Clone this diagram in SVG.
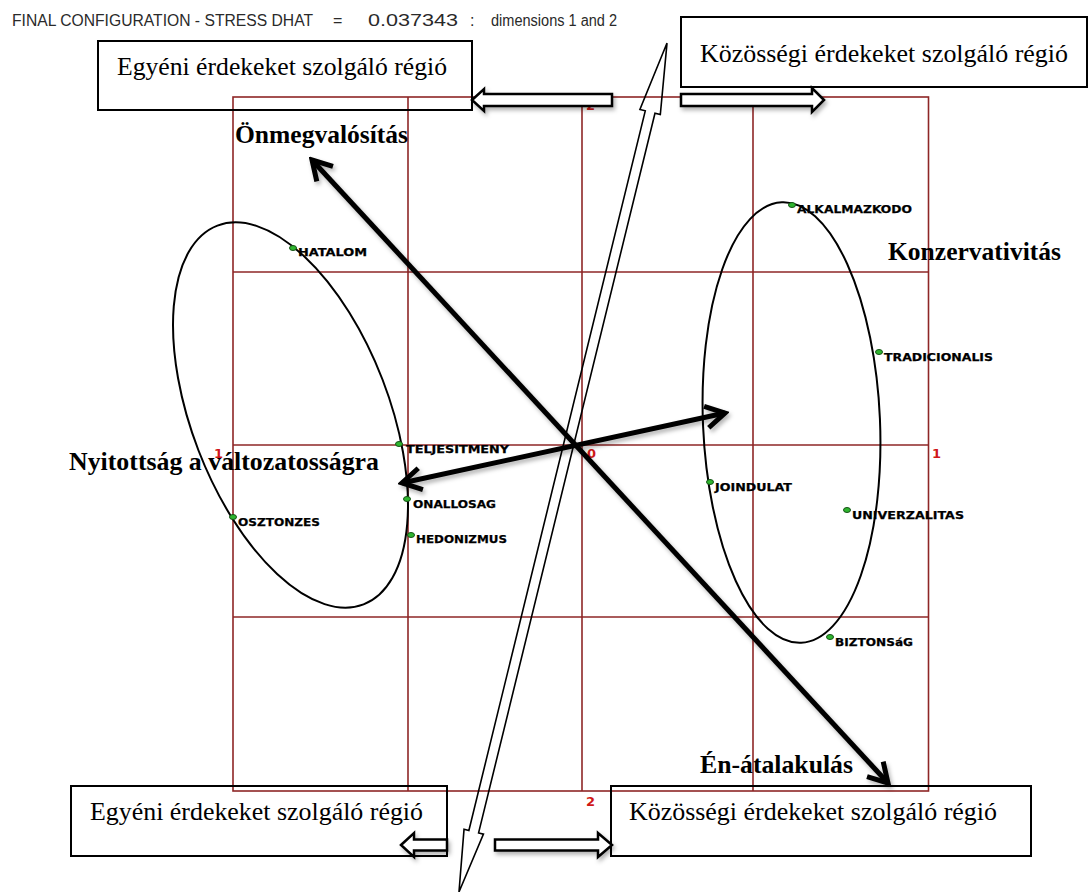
<svg xmlns="http://www.w3.org/2000/svg" width="1091" height="892" viewBox="0 0 1091 892">
  <style>
    .title { font-family: "Liberation Sans", Arial, sans-serif; font-size: 16px; fill: #2a2a2a; }
    .grid { stroke: #8e2626; stroke-width: 1.6; fill: none; }
    .axis { font-family: "DejaVu Sans", "Liberation Sans", sans-serif; font-size: 13px; font-weight: bold; fill: #d01818; }
    .pt { fill: #2fb52f; stroke: #145214; stroke-width: 1; }
    .plabel { font-family: "DejaVu Sans", "Liberation Sans", sans-serif; font-size: 10.5px; font-weight: bold; fill: #000; stroke: #000; stroke-width: 0.25; }
    .big { font-family: "Liberation Serif", "Times New Roman", serif; font-size: 25.5px; font-weight: bold; fill: #000; }
    .boxtext { font-family: "Liberation Serif", "Times New Roman", serif; font-size: 25.7px; fill: #000; }
    .box { fill: none; stroke: #000; stroke-width: 2; }
    .ring { fill: none; stroke: #000; stroke-width: 2; }
    .block { fill: #fff; stroke: #000; stroke-width: 2.5; stroke-linejoin: miter; }
    .thick { stroke: #000; stroke-width: 5; fill: none; }
    .slim { fill: none; stroke: #000; stroke-width: 1.6; stroke-linejoin: miter; }
  </style>
  <defs>
    <filter id="shadow" x="-10%" y="-10%" width="120%" height="120%">
      <feDropShadow dx="2" dy="3" stdDeviation="2" flood-color="#000" flood-opacity="0.3"/>
    </filter>
    <marker id="chevron" viewBox="-26 -15 30 30" refX="0" refY="0" markerWidth="30" markerHeight="30" markerUnits="userSpaceOnUse" orient="auto-start-reverse">
      <path d="M -19,-11 L 0,0 L -19,11" fill="none" stroke="#000" stroke-width="5" stroke-linejoin="miter"/>
    </marker>
  </defs>

  <rect width="1091" height="892" fill="#fff"/>

  <!-- header line of the MDS output -->
  <g id="header" class="title">
    <text x="12" y="26" textLength="301" lengthAdjust="spacingAndGlyphs">FINAL CONFIGURATION - STRESS DHAT</text>
    <text x="333" y="26">=</text>
    <text x="368" y="26" textLength="90" lengthAdjust="spacingAndGlyphs">0.037343</text>
    <text x="470" y="26">:</text>
    <text x="491" y="26" textLength="126" lengthAdjust="spacingAndGlyphs">dimensions 1 and 2</text>
  </g>

  <!-- 4x4 plot grid -->
  <g id="grid" class="grid">
    <rect x="233" y="97" width="695.5" height="694"/>
    <line x1="408" y1="97" x2="408" y2="791"/>
    <line x1="582" y1="97" x2="582" y2="791"/>
    <line x1="753" y1="97" x2="753" y2="791"/>
    <line x1="233" y1="272" x2="928.5" y2="272"/>
    <line x1="233" y1="445" x2="928.5" y2="445"/>
    <line x1="233" y1="617" x2="928.5" y2="617"/>
  </g>

  <!-- axis tick labels -->
  <g id="axis-labels" class="axis">
    <text x="586" y="110">2</text>
    <text x="586" y="806">2</text>
    <text x="214" y="458">1</text>
    <text x="932" y="458">1</text>
    <text x="587" y="458">0</text>
  </g>

  <!-- cluster outlines -->
  <g id="cluster-left">
    <ellipse class="ring" cx="290.5" cy="415" rx="203" ry="98.6" transform="rotate(68.9 290.5 415)"/>
  </g>
  <g id="cluster-right">
    <ellipse class="ring" cx="791.5" cy="422.5" rx="88.5" ry="220.5" transform="rotate(-2.5 791.5 422.5)"/>
  </g>

  <!-- value points -->
  <g id="node-hatalom">
    <ellipse class="pt" cx="293" cy="248" rx="3.5" ry="2.5"/>
    <text class="plabel" x="298" y="256" textLength="69" lengthAdjust="spacingAndGlyphs">HATALOM</text>
  </g>
  <g id="node-alkalmazkodo">
    <ellipse class="pt" cx="792" cy="205" rx="3.5" ry="2.5"/>
    <text class="plabel" x="797" y="213" textLength="115" lengthAdjust="spacingAndGlyphs">ALKALMAZKODO</text>
  </g>
  <g id="node-tradicionalis">
    <ellipse class="pt" cx="879" cy="352" rx="3.5" ry="2.5"/>
    <text class="plabel" x="884" y="361" textLength="109" lengthAdjust="spacingAndGlyphs">TRADICIONALIS</text>
  </g>
  <g id="node-teljesitmeny">
    <ellipse class="pt" cx="399" cy="444" rx="3.5" ry="2.5"/>
    <text class="plabel" x="406" y="453" textLength="103" lengthAdjust="spacingAndGlyphs">TELJESITMENY</text>
  </g>
  <g id="node-onallosag">
    <ellipse class="pt" cx="407" cy="499" rx="3.5" ry="2.5"/>
    <text class="plabel" x="413" y="508" textLength="83" lengthAdjust="spacingAndGlyphs">ONALLOSAG</text>
  </g>
  <g id="node-osztonzes">
    <ellipse class="pt" cx="233" cy="517" rx="3.5" ry="2.5"/>
    <text class="plabel" x="238" y="526" textLength="82" lengthAdjust="spacingAndGlyphs">OSZTONZES</text>
  </g>
  <g id="node-hedonizmus">
    <ellipse class="pt" cx="411" cy="535" rx="3.5" ry="2.5"/>
    <text class="plabel" x="416" y="543" textLength="91" lengthAdjust="spacingAndGlyphs">HEDONIZMUS</text>
  </g>
  <g id="node-joindulat">
    <ellipse class="pt" cx="710" cy="482" rx="3.5" ry="2.5"/>
    <text class="plabel" x="715" y="491" textLength="77" lengthAdjust="spacingAndGlyphs">JOINDULAT</text>
  </g>
  <g id="node-univerzalitas">
    <ellipse class="pt" cx="847" cy="510" rx="3.5" ry="2.5"/>
    <text class="plabel" x="852" y="519" textLength="112" lengthAdjust="spacingAndGlyphs">UNIVERZALITAS</text>
  </g>
  <g id="node-biztonsag">
    <ellipse class="pt" cx="830" cy="637" rx="3.5" ry="2.5"/>
    <text class="plabel" x="835" y="646" textLength="78" lengthAdjust="spacingAndGlyphs">BIZTONSáG</text>
  </g>

  <!-- dimension poles -->
  <g id="label-onmegvalositas"><text class="big" x="235" y="143" textLength="173" lengthAdjust="spacingAndGlyphs">Önmegvalósítás</text></g>
  <g id="label-konzervativitas"><text class="big" x="888" y="260" textLength="173" lengthAdjust="spacingAndGlyphs">Konzervativitás</text></g>
  <g id="label-nyitottsag"><text class="big" x="69" y="470" textLength="310" lengthAdjust="spacingAndGlyphs">Nyitottság a változatosságra</text></g>
  <g id="label-en-atalakulas"><text class="big" x="700" y="773" textLength="153" lengthAdjust="spacingAndGlyphs">Én-átalakulás</text></g>

  <!-- region boxes -->
  <g id="region-top-left">
    <rect class="box" x="98" y="41" width="374" height="69"/>
    <text class="boxtext" x="117" y="75" textLength="330" lengthAdjust="spacingAndGlyphs">Egyéni érdekeket szolgáló régió</text>
  </g>
  <g id="region-top-right">
    <rect class="box" x="681" y="17" width="406" height="70"/>
    <text class="boxtext" x="700" y="62" textLength="368" lengthAdjust="spacingAndGlyphs">Közösségi érdekeket szolgáló régió</text>
  </g>
  <g id="region-bottom-left">
    <rect class="box" x="71" y="786" width="376" height="70"/>
    <text class="boxtext" x="90" y="820" textLength="333" lengthAdjust="spacingAndGlyphs">Egyéni érdekeket szolgáló régió</text>
  </g>
  <g id="region-bottom-right">
    <rect class="box" x="611" y="786" width="420" height="70"/>
    <text class="boxtext" x="629" y="820" textLength="368" lengthAdjust="spacingAndGlyphs">Közösségi érdekeket szolgáló régió</text>
  </g>

  <!-- connectors -->
  <g id="connectors">
    <g filter="url(#shadow)">
      <polygon class="block" points="472,100 484,89 484,94 612,94 612,106 484,106 484,111"/>
      <polygon class="block" points="824,100 812,88 812,94 681,94 681,106 812,106 812,112"/>
      <polygon class="block" points="401,845 414,833 414,839.5 447,839.5 447,850.5 414,850.5 414,857"/>
      <polygon class="block" points="612,845 598,833 598,839.5 495,839.5 495,850.5 598,850.5 598,857"/>
    </g>
    <polygon class="slim" transform="translate(563 467.5) rotate(-76.23)" points="437,0 366,-10.5 366,-5 -375,-5 -375,-10 -437,0 -375,10 -375,5 366,5 366,10.5"/>
    <g filter="url(#shadow)">
      <line class="thick" x1="312" y1="160" x2="888" y2="783" marker-start="url(#chevron)" marker-end="url(#chevron)"/>
      <line class="thick" x1="402" y1="483" x2="725" y2="413" marker-start="url(#chevron)" marker-end="url(#chevron)"/>
    </g>
  </g>
</svg>
